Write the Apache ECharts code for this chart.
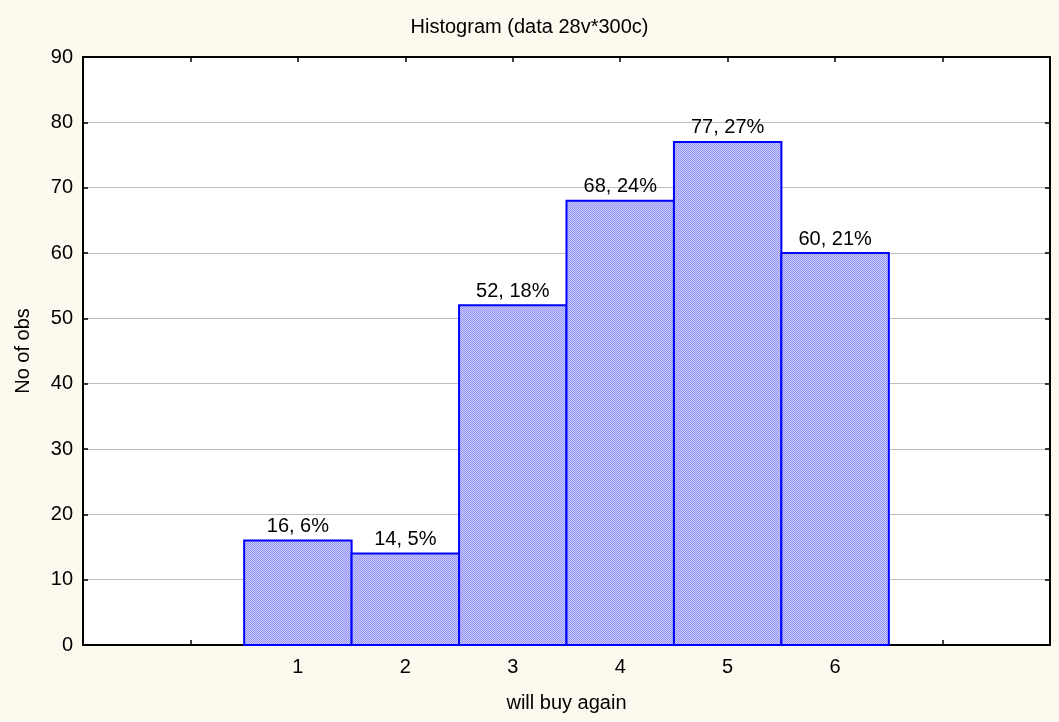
<!DOCTYPE html>
<html>
<head>
<meta charset="utf-8">
<title>Histogram</title>
<script src="https://cdn.jsdelivr.net/npm/echarts@6/dist/echarts.min.js"></script>
<style>
  html, body { margin: 0; padding: 0; background: #fdf9ef; }
  #chart { width: 1059px; height: 722px; }
</style>
</head>
<body>
<div id="chart"></div>
<script>
// values
var categories = [1, 2, 3, 4, 5, 6];
var counts = [16, 14, 52, 68, 77, 60];
var percents = [6, 5, 18, 24, 27, 21];

var FONT = '"Liberation Sans", Arial, sans-serif';

// fine checker fill like the original bars
function makeHatch() {
  var c = document.createElement('canvas');
  c.width = 2;
  c.height = 2;
  var ctx = c.getContext('2d');
  ctx.fillStyle = '#cacafd';
  ctx.fillRect(0, 0, 2, 2);
  ctx.fillStyle = '#9494f6';
  ctx.fillRect(0, 0, 1, 1);
  ctx.fillRect(1, 1, 1, 1);
  return c;
}
var hatch = makeHatch();

var data = categories.map(function (c, i) {
  return [c, counts[i], percents[i]];
});

var tickStyle = { inside: true, length: 5, lineStyle: { color: '#000', width: 1.5 } };
var lineStyle = { show: true, onZero: false, lineStyle: { color: '#000', width: 2 } };

var chart = echarts.init(document.getElementById('chart'));
chart.setOption({
  backgroundColor: '#fdf9ef',
  animation: false,
  title: {
    text: 'Histogram (data 28v*300c)',
    left: 'center',
    top: 12,
    textStyle: { fontFamily: FONT, fontSize: 20, fontWeight: 'normal', color: '#000' }
  },
  grid: {
    left: 83,
    right: 9,
    top: 57,
    bottom: 77,
    show: true,
    backgroundColor: '#fff',
    borderWidth: 0
  },
  xAxis: [{
    type: 'value',
    min: -1,
    max: 8,
    interval: 1,
    position: 'bottom',
    name: 'will buy again',
    nameLocation: 'middle',
    nameGap: 48,
    nameTextStyle: { fontFamily: FONT, fontSize: 20, color: '#000' },
    axisLine: lineStyle,
    axisTick: tickStyle,
    axisLabel: {
      margin: 12,
      fontFamily: FONT,
      fontSize: 20,
      color: '#000',
      formatter: function (v) {
        return categories.indexOf(v) >= 0 ? String(v) : '';
      }
    },
    splitLine: { show: false }
  }, {
    type: 'value',
    min: -1,
    max: 8,
    interval: 1,
    position: 'top',
    axisLine: lineStyle,
    axisTick: tickStyle,
    axisLabel: { show: false },
    splitLine: { show: false }
  }],
  yAxis: [{
    type: 'value',
    min: 0,
    max: 90,
    interval: 10,
    position: 'left',
    name: 'No of obs',
    nameLocation: 'middle',
    nameGap: 50,
    nameTextStyle: { fontFamily: FONT, fontSize: 20, color: '#000' },
    axisLine: lineStyle,
    axisTick: tickStyle,
    axisLabel: { margin: 10, fontFamily: FONT, fontSize: 20, color: '#000' },
    splitLine: { show: true, lineStyle: { color: '#bdbdbd', width: 1 } }
  }, {
    type: 'value',
    min: 0,
    max: 90,
    interval: 10,
    position: 'right',
    axisLine: lineStyle,
    axisTick: tickStyle,
    axisLabel: { show: false },
    splitLine: { show: false }
  }],
  series: [{
    type: 'custom',
    xAxisIndex: 0,
    yAxisIndex: 0,
    data: data,
    renderItem: function (params, api) {
      var x = api.value(0);
      var y = api.value(1);
      var topLeft = api.coord([x - 0.5, y]);
      var bottomRight = api.coord([x + 0.5, 0]);
      return {
        type: 'rect',
        shape: {
          x: topLeft[0],
          y: topLeft[1],
          width: bottomRight[0] - topLeft[0],
          height: bottomRight[1] - topLeft[1]
        },
        style: {
          fill: { image: hatch, repeat: 'repeat' },
          stroke: '#0000ff',
          lineWidth: 2
        },
        textContent: {
          style: {
            text: y + ', ' + api.value(2) + '%',
            fontFamily: FONT,
            fontSize: 20,
            fill: '#000'
          }
        },
        textConfig: { position: 'top', distance: 3 }
      };
    }
  }]
});
</script>
</body>
</html>
